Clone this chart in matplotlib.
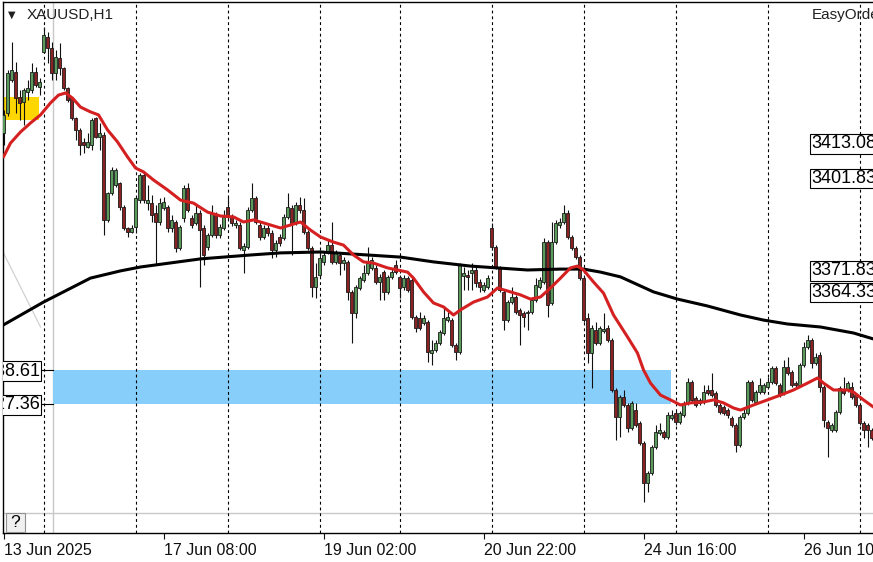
import matplotlib.pyplot as plt
from matplotlib.patches import Rectangle

# ---- H1 candles, one entry per bar (bar 0 = leftmost) ----
opens = [
    3417.7, 3424.3, 3435.3, 3438.0, 3429.7, 3428.0, 3431.3, 3432.0, 3438.0, 3433.0,  # 0
    3444.7, 3449.7, 3446.0, 3437.7, 3442.7, 3439.3, 3432.7, 3429.3, 3422.7, 3418.7,  # 10
    3414.7, 3413.0, 3413.7, 3422.7, 3416.3, 3417.0, 3388.7, 3397.7, 3400.3, 3401.0,  # 20
    3393.0, 3386.0, 3384.7, 3386.3, 3395.3, 3403.7, 3394.3, 3394.3, 3391.0, 3388.0,  # 30
    3392.7, 3393.0, 3386.0, 3388.0, 3379.3, 3389.3, 3399.3, 3389.3, 3387.7, 3391.0,  # 40
    3386.0, 3379.7, 3383.7, 3390.3, 3383.7, 3386.0, 3393.0, 3389.7, 3387.0, 3387.0,  # 50
    3378.7, 3379.7, 3392.0, 3396.0, 3387.0, 3383.0, 3386.0, 3384.3, 3378.7, 3383.0,  # 60
    3382.7, 3389.7, 3392.7, 3387.7, 3393.7, 3392.0, 3384.7, 3379.3, 3366.3, 3370.3,  # 70
    3374.7, 3378.0, 3380.3, 3374.7, 3377.0, 3374.3, 3374.7, 3364.7, 3357.7, 3366.0,  # 80
    3368.7, 3371.0, 3372.7, 3372.7, 3368.0, 3371.3, 3364.7, 3369.7, 3373.7, 3369.7,  # 90
    3366.3, 3369.3, 3368.7, 3356.3, 3356.0, 3354.3, 3354.7, 3344.3, 3345.3, 3347.7,  # 100
    3351.0, 3355.3, 3355.3, 3347.0, 3344.7, 3370.0, 3370.3, 3371.0, 3372.0, 3368.0,  # 110
    3365.3, 3366.3, 3386.0, 3379.7, 3372.7, 3364.7, 3355.3, 3361.3, 3363.0, 3358.7,  # 120
    3357.7, 3357.7, 3358.0, 3362.0, 3366.3, 3368.0, 3381.3, 3361.0, 3381.3, 3387.0,  # 130
    3388.0, 3391.0, 3383.0, 3379.3, 3376.3, 3369.3, 3356.0, 3344.3, 3352.0, 3347.7,  # 140
    3351.7, 3352.7, 3348.7, 3332.0, 3323.0, 3329.7, 3327.0, 3319.3, 3325.3, 3321.0,  # 150
    3314.3, 3301.0, 3304.3, 3313.0, 3317.7, 3318.0, 3316.3, 3322.7, 3324.3, 3321.3,  # 160
    3323.7, 3327.7, 3334.7, 3329.3, 3327.7, 3328.0, 3332.0, 3332.0, 3331.0, 3327.0,  # 170
    3326.3, 3325.3, 3322.7, 3320.3, 3313.7, 3323.0, 3324.3, 3334.7, 3328.0, 3331.3,  # 180
    3331.3, 3333.0, 3334.7, 3339.3, 3333.7, 3331.0, 3339.7, 3338.0, 3334.3, 3333.7,  # 190
    3340.3, 3346.3, 3348.7, 3341.0, 3343.7, 3333.0, 3321.3, 3318.7, 3318.7, 3324.7,  # 200
    3332.0, 3332.0, 3333.0, 3330.3, 3327.0, 3321.0, 3320.3, 3318.7,                  # 210
]
highs = [
    3425.3, 3438.7, 3448.0, 3441.3, 3432.0, 3432.7, 3435.3, 3441.0, 3439.7, 3436.0,
    3453.0, 3451.3, 3448.0, 3445.3, 3447.7, 3439.7, 3433.0, 3429.7, 3423.0, 3419.3,
    3416.0, 3417.7, 3422.7, 3423.0, 3421.0, 3418.0, 3398.0, 3406.3, 3406.0, 3401.3,
    3393.7, 3386.3, 3387.0, 3396.3, 3404.3, 3404.7, 3400.3, 3397.0, 3393.7, 3396.0,
    3396.3, 3393.7, 3390.3, 3388.7, 3387.0, 3400.3, 3401.0, 3390.3, 3393.7, 3392.0,
    3387.0, 3384.3, 3393.7, 3391.3, 3387.3, 3392.0, 3396.3, 3390.7, 3388.7, 3388.0,
    3381.0, 3393.0, 3401.0, 3396.7, 3388.0, 3387.0, 3387.0, 3385.3, 3382.0, 3384.0,
    3390.7, 3397.7, 3393.7, 3394.7, 3396.3, 3396.0, 3385.3, 3380.0, 3374.3, 3378.7,
    3378.0, 3382.0, 3388.0, 3378.7, 3378.0, 3376.3, 3375.3, 3365.3, 3367.0, 3370.0,
    3373.7, 3379.7, 3376.3, 3373.7, 3370.7, 3372.0, 3370.3, 3372.7, 3375.3, 3370.3,
    3370.3, 3370.0, 3369.3, 3357.0, 3358.0, 3357.0, 3355.3, 3348.7, 3348.7, 3352.0,
    3359.3, 3358.0, 3356.0, 3347.7, 3374.3, 3373.0, 3372.0, 3374.3, 3373.0, 3369.0,
    3368.0, 3370.3, 3387.7, 3380.3, 3373.3, 3365.3, 3362.0, 3366.3, 3363.7, 3359.3,
    3358.3, 3358.7, 3362.7, 3369.3, 3369.7, 3382.7, 3382.0, 3388.0, 3388.7, 3389.3,
    3393.7, 3392.0, 3383.7, 3380.0, 3377.0, 3370.3, 3357.7, 3353.7, 3354.7, 3353.3,
    3357.7, 3353.7, 3349.3, 3332.7, 3330.3, 3332.0, 3327.7, 3328.3, 3327.7, 3321.7,
    3315.0, 3305.0, 3313.7, 3320.3, 3321.0, 3318.7, 3324.7, 3325.3, 3325.0, 3325.0,
    3328.3, 3336.0, 3335.3, 3330.0, 3329.3, 3333.7, 3333.7, 3337.7, 3331.7, 3327.7,
    3327.0, 3326.0, 3323.3, 3321.0, 3323.7, 3326.3, 3335.3, 3335.3, 3332.0, 3336.0,
    3334.3, 3336.3, 3340.0, 3340.0, 3334.3, 3342.0, 3343.0, 3338.7, 3335.0, 3341.0,
    3348.0, 3350.3, 3349.3, 3344.3, 3344.7, 3333.7, 3322.0, 3321.0, 3325.3, 3333.3,
    3336.3, 3335.0, 3334.7, 3331.0, 3327.7, 3321.7, 3321.0, 3319.3,
]
lows = [
    3413.7, 3423.3, 3434.7, 3424.3, 3422.0, 3420.3, 3428.7, 3431.0, 3433.0, 3430.3,
    3444.3, 3441.0, 3435.3, 3435.3, 3437.0, 3432.0, 3428.0, 3422.0, 3415.3, 3410.3,
    3411.0, 3412.7, 3412.0, 3416.0, 3412.0, 3383.7, 3388.0, 3397.0, 3399.7, 3392.0,
    3385.3, 3383.0, 3384.3, 3384.3, 3394.3, 3394.3, 3392.0, 3388.0, 3373.7, 3387.0,
    3392.0, 3384.7, 3384.7, 3378.0, 3378.7, 3388.0, 3391.3, 3386.0, 3387.0, 3366.3,
    3373.7, 3378.7, 3383.0, 3382.7, 3382.7, 3385.3, 3388.7, 3386.7, 3386.0, 3378.7,
    3371.0, 3379.0, 3391.3, 3387.3, 3382.0, 3382.3, 3383.3, 3376.0, 3376.3, 3380.0,
    3382.0, 3389.0, 3377.0, 3387.0, 3391.0, 3384.0, 3378.7, 3363.0, 3362.7, 3369.7,
    3373.7, 3377.3, 3374.0, 3374.0, 3370.3, 3372.0, 3362.0, 3347.7, 3356.0, 3365.3,
    3368.0, 3370.3, 3372.0, 3367.3, 3362.0, 3362.0, 3364.0, 3369.0, 3370.7, 3362.7,
    3365.3, 3364.7, 3355.7, 3351.3, 3352.0, 3353.7, 3341.3, 3340.3, 3344.7, 3347.0,
    3350.3, 3354.7, 3346.3, 3342.0, 3344.0, 3365.3, 3365.3, 3365.3, 3366.3, 3364.7,
    3364.7, 3365.7, 3378.7, 3372.3, 3364.7, 3352.0, 3354.7, 3360.7, 3357.3, 3347.0,
    3353.0, 3352.0, 3357.3, 3361.3, 3365.7, 3367.3, 3356.3, 3360.3, 3380.7, 3386.0,
    3387.3, 3382.3, 3378.7, 3375.7, 3368.7, 3354.7, 3341.0, 3332.7, 3347.0, 3347.0,
    3351.0, 3348.0, 3331.3, 3315.3, 3316.3, 3326.3, 3318.0, 3318.7, 3319.7, 3313.7,
    3294.7, 3298.0, 3303.7, 3312.3, 3317.0, 3315.7, 3315.7, 3322.0, 3320.3, 3320.7,
    3323.0, 3327.0, 3328.0, 3326.3, 3327.0, 3327.3, 3330.3, 3329.7, 3326.3, 3324.0,
    3323.7, 3322.7, 3319.7, 3311.3, 3313.0, 3322.3, 3323.7, 3328.0, 3327.3, 3330.7,
    3330.7, 3332.3, 3334.0, 3333.7, 3329.7, 3330.3, 3337.0, 3333.0, 3333.0, 3333.0,
    3339.7, 3345.7, 3339.3, 3340.3, 3331.3, 3319.7, 3309.7, 3318.0, 3318.0, 3324.0,
    3330.3, 3331.3, 3329.0, 3326.3, 3320.3, 3316.0, 3313.0, 3315.3,
]
closes = [
    3423.7, 3437.7, 3438.7, 3429.3, 3427.7, 3432.0, 3432.7, 3438.0, 3433.7, 3434.7,
    3450.3, 3446.0, 3437.7, 3443.0, 3439.3, 3432.7, 3428.7, 3422.7, 3418.7, 3413.7,
    3413.7, 3414.7, 3422.0, 3416.3, 3417.7, 3388.7, 3397.7, 3405.3, 3405.3, 3393.0,
    3386.0, 3384.7, 3386.0, 3396.0, 3403.7, 3395.3, 3395.3, 3390.3, 3388.0, 3394.3,
    3394.7, 3386.0, 3388.7, 3379.3, 3386.3, 3399.3, 3392.0, 3387.0, 3391.0, 3385.3,
    3377.0, 3383.7, 3391.0, 3383.7, 3386.3, 3389.7, 3389.7, 3387.7, 3387.7, 3379.3,
    3380.0, 3392.0, 3396.0, 3388.0, 3383.0, 3386.0, 3384.3, 3378.7, 3381.0, 3381.0,
    3389.7, 3393.0, 3387.7, 3393.7, 3392.0, 3384.7, 3379.3, 3366.3, 3369.7, 3376.0,
    3377.0, 3380.3, 3374.7, 3377.7, 3374.3, 3375.3, 3364.7, 3357.7, 3366.3, 3369.3,
    3371.0, 3374.3, 3375.3, 3368.0, 3369.7, 3364.7, 3369.7, 3371.3, 3371.3, 3366.0,
    3369.3, 3365.3, 3356.3, 3352.7, 3352.7, 3356.0, 3344.7, 3345.3, 3347.7, 3351.3,
    3356.0, 3356.3, 3347.0, 3344.7, 3373.7, 3371.0, 3369.7, 3372.0, 3367.7, 3366.3,
    3367.0, 3369.3, 3379.7, 3373.0, 3365.3, 3355.3, 3361.3, 3363.0, 3358.0, 3357.0,
    3356.3, 3358.0, 3362.0, 3367.0, 3368.7, 3381.3, 3360.3, 3381.3, 3387.7, 3388.0,
    3391.0, 3383.0, 3379.3, 3376.3, 3369.3, 3355.3, 3344.3, 3352.7, 3347.7, 3352.7,
    3352.3, 3348.7, 3332.0, 3323.0, 3329.7, 3327.0, 3319.3, 3327.7, 3320.3, 3314.3,
    3301.0, 3304.3, 3313.0, 3318.0, 3318.7, 3316.3, 3323.7, 3323.7, 3321.3, 3324.3,
    3327.7, 3334.7, 3328.7, 3327.0, 3328.7, 3331.3, 3331.0, 3330.3, 3327.0, 3324.7,
    3324.3, 3323.7, 3320.3, 3313.7, 3323.0, 3324.3, 3334.7, 3328.7, 3331.3, 3333.7,
    3333.7, 3334.7, 3339.3, 3334.3, 3330.3, 3339.7, 3337.7, 3333.7, 3333.7, 3340.3,
    3346.3, 3348.7, 3341.0, 3343.0, 3333.0, 3322.0, 3319.3, 3320.3, 3324.7, 3332.7,
    3331.0, 3334.3, 3329.7, 3327.0, 3321.0, 3318.7, 3318.7, 3316.0,
]

# ---- moving averages (bar position, price) ----
fast_ma_x = [0, 1.75, 4.25, 6.75, 9.25, 11.75, 13.75, 15.5, 17.25, 19.25, 21.75, 23.75,
             26, 28.5, 31, 33, 35, 37.5, 41, 44.25, 47.5, 51, 54.25, 57.5, 60, 62.5,
             66, 69.25, 71.75, 74.25, 76.75, 79.25, 82.5, 85, 87.5, 90, 92.5, 96,
             98.5, 101, 102.5, 105, 107.5, 110, 112.5, 114.25, 117.5, 121, 123.5,
             126.75, 129.25, 131.75, 134.25, 136.75, 139.25, 141.75, 143.5, 145,
             147.5, 150, 152.5, 156, 158.5, 160, 161.75, 164.25, 166.75, 169.25,
             171.75, 175, 177.5, 180, 182.5, 184.25, 187.5, 191, 194.25, 197.5, 201,
             203.5, 205, 207.5, 211, 212.5, 215, 217.5]
fast_ma = [3409.7, 3414.3, 3418.0, 3421.0, 3423.7, 3427.7, 3430.3, 3431.0, 3429.3, 3426.3,
           3424.7, 3423.7, 3418.7, 3414.7, 3409.7, 3406.0, 3404.7, 3402.0, 3398.7, 3395.3,
           3394.3, 3391.3, 3390.0, 3389.7, 3388.0, 3388.7, 3387.3, 3386.0, 3387.0, 3388.0,
           3385.3, 3383.0, 3381.3, 3380.3, 3377.0, 3374.7, 3374.3, 3372.7, 3372.0, 3371.3,
           3369.3, 3364.7, 3361.0, 3359.7, 3357.0, 3358.7, 3361.3, 3363.0, 3366.0, 3364.7,
           3363.7, 3362.3, 3363.0, 3366.0, 3369.3, 3372.7, 3373.3, 3372.0, 3368.0, 3364.3,
           3357.0, 3349.7, 3344.3, 3338.7, 3334.3, 3330.3, 3328.7, 3327.0, 3327.7, 3328.0,
           3328.7, 3327.7, 3326.0, 3325.3, 3327.0, 3328.7, 3330.3, 3332.0, 3334.3, 3336.0,
           3334.3, 3332.0, 3332.0, 3331.3, 3328.7, 3326.3]
slow_ma_x = [0, 10, 21.75, 29.25, 34.25, 49.25, 61.75, 69.25, 79.25, 91, 99.25, 107.5,
             116.75, 131, 139.25, 145, 149.25, 154.25, 162.5, 168.5, 176, 184.25, 190,
             196, 204.25, 212.5, 217.5]
slow_ma = [3353.7, 3361.3, 3369.3, 3371.7, 3373.0, 3375.7, 3377.0, 3377.7, 3378.0, 3377.0,
           3376.3, 3374.7, 3373.3, 3372.0, 3372.3, 3372.3, 3371.3, 3369.7, 3364.7, 3362.3,
           3360.0, 3357.0, 3355.3, 3354.0, 3353.0, 3351.0, 3349.0]

day_breaks = [10, 33, 56, 79, 99, 122, 145, 168, 191, 214]
tick_bars = [0, 40, 80, 120, 160, 200]
tick_labels = ['13 Jun 2025', '17 Jun 08:00', '19 Jun 02:00', '20 Jun 22:00',
               '24 Jun 16:00', '26 Jun 10:00']
zone_top, zone_bottom = 3338.61, 3327.36
right_labels = ['3413.08', '3401.83', '3371.83', '3364.33']
right_label_y = [3414.0, 3402.5, 3371.8, 3364.5]

W, H = 873, 562
plt.rcParams['font.family'] = ['Liberation Sans', 'DejaVu Sans']
fig = plt.figure(figsize=(W / 100, H / 100), dpi=100)
ax = fig.add_axes([3 / W, 29 / H, 1 - 3 / W, 531 / H])
ax.set_xlim(-0.125, 217.375)
ax.set_ylim(3284.33, 3461.33)
ax.spines['right'].set_visible(False)
for s in ('left', 'top', 'bottom'):
    ax.spines[s].set_linewidth(1.0)
ax.set_yticks([])
ax.set_xticks(tick_bars, labels=tick_labels, ha='left')
ax.tick_params(axis='x', length=4, width=0.8, pad=3, labelsize=11.5, colors='#101010')

# background objects
ax.add_patch(Rectangle((-0.125, 3422.0), 8.9, 7.7, color='#ffd700', lw=0, zorder=1))
ax.add_patch(Rectangle((12.25, zone_bottom), 154.5, zone_top - zone_bottom,
                       color='#87cefa', lw=0, zorder=1))
ax.axvline(12.25, color='#c8c8c8', lw=1, zorder=0.5)
ax.axhline(3291.0, color='#c8c8c8', lw=1, zorder=0.5)
ax.plot([-0.125, 9.25], [3378.0, 3353.0], color='#cccccc', lw=0.8, zorder=0.5)
for b in day_breaks:
    ax.axvline(b, color='black', lw=0.8, ls=(0, (2.6, 2.6)), zorder=2)

# candles
for i in range(len(opens)):
    o, h, l, c = opens[i], highs[i], lows[i], closes[i]
    col = '#5a9a5a' if c >= o else '#8b2222'
    ax.vlines(i, l, h, color='#101010', lw=0.8, zorder=3)
    ax.add_patch(Rectangle((i - 0.33, min(o, c)), 0.66, max(abs(c - o), 0.35),
                           facecolor=col, edgecolor='#1a1a1a', lw=0.6, zorder=3.5))

ax.plot(slow_ma_x, slow_ma, color='black', lw=2.2, zorder=4, solid_capstyle='round')
ax.plot(fast_ma_x, fast_ma, color='#d42020', lw=2.2, zorder=4.5, solid_capstyle='round')

# price labels
box = dict(boxstyle='square,pad=0.08', fc='white', ec='black', lw=0.8)
for txt, yv in zip(right_labels, right_label_y):
    ax.text(202.0, yv, txt, fontsize=13, ha='left', va='center', bbox=box,
            zorder=6, clip_on=True)
for txt, yv in [('3338.61', 3338.2), ('3327.36', 3327.0)]:
    ax.text(9.1, yv, txt, fontsize=13, ha='right', va='center', bbox=box,
            zorder=6, clip_on=True)
ax.plot([9.4, 12.25], [zone_top, zone_top], color='black', lw=0.8, zorder=5)
ax.plot([9.4, 12.25], [zone_bottom, zone_bottom], color='black', lw=0.8, zorder=5)

# help box
ax.add_patch(Rectangle((0.65, 3284.6), 4.7, 6.4, facecolor='#f0f0f0',
                       edgecolor='#909090', lw=0.8, zorder=6))
ax.text(3.0, 3287.7, '?', fontsize=12.5, ha='center', va='center', zorder=7)

fig.text(12 / W, 1 - 15 / H, '\u25bc', fontsize=7, ha='center', va='center',
         family='DejaVu Sans', color='#202020')
fig.text(27 / W, 1 - 15 / H, 'XAUUSD,H1', fontsize=11, ha='left', va='center',
         color='#202020')
fig.text(812 / W, 1 - 15 / H, 'EasyOrder', fontsize=11, ha='left', va='center',
         color='#202020')

fig.savefig('out.png', dpi=100)
